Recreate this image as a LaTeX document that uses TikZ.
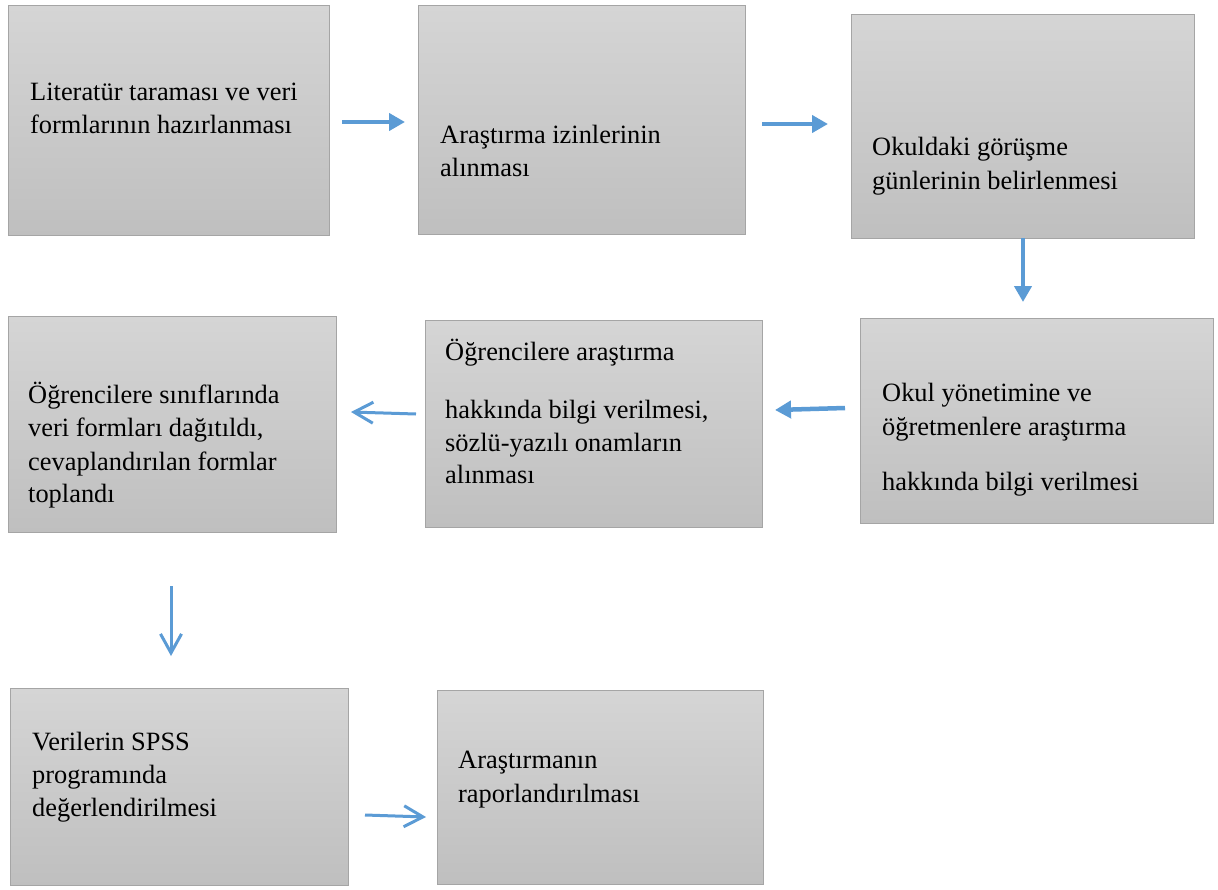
\documentclass[tikz,border=0pt]{standalone}
\usepackage{fontspec}
\setmainfont{Liberation Serif}
\usetikzlibrary{arrows.meta}
\definecolor{boxtop}{RGB}{213,213,213}
\definecolor{boxbot}{RGB}{191,191,191}
\definecolor{boxline}{RGB}{165,165,165}
\definecolor{arrowblue}{RGB}{91,155,213}
\begin{document}
\begin{tikzpicture}[x=1pt,y=-1pt,
  box/.style={draw=boxline, line width=1.2pt, top color=boxtop, bottom color=boxbot, anchor=north west, inner sep=0pt},
  txt/.style={anchor=base west, inner sep=0pt, font=\fontsize{26.4}{33}\selectfont},
  solidarrow/.style={draw=arrowblue, line width=4.5pt, -{Triangle[length=16pt,width=17pt]}},
  openarrow/.style={draw=arrowblue, line width=3pt, -{Straight Barb[length=19pt,width=21pt]}}]
\useasboundingbox[fill=white] (0,0) rectangle (1218,889);

% boxes
\node[box, minimum width=321pt, minimum height=230pt] (b1) at (8,5) {};
\node[box, minimum width=327pt, minimum height=229pt] (b2) at (418,5) {};
\node[box, minimum width=343pt, minimum height=224pt] (b3) at (851,14) {};
\node[box, minimum width=353pt, minimum height=205pt] (b4) at (860,318) {};
\node[box, minimum width=337pt, minimum height=207pt] (b5) at (425,320) {};
\node[box, minimum width=328pt, minimum height=216pt] (b6) at (8,316) {};
\node[box, minimum width=338pt, minimum height=197pt] (b7) at (10,688) {};
\node[box, minimum width=326pt, minimum height=194pt] (b8) at (437,690) {};

% texts
\node[txt] (t1a) at (30,100) {Literatür taraması ve veri};
\node[txt] (t1b) at (30,133) {formlarının hazırlanması};

\node[txt] (t2a) at (440,143) {Araştırma izinlerinin};
\node[txt] (t2b) at (440,176) {alınması};

\node[txt] (t3a) at (872,155) {Okuldaki görüşme};
\node[txt] (t3b) at (872,189) {günlerinin belirlenmesi};

\node[txt] (t4a) at (882,401) {Okul yönetimine ve};
\node[txt] (t4b) at (882,435) {öğretmenlere araştırma};
\node[txt] (t4c) at (882,490) {hakkında bilgi verilmesi};

\node[txt] (t5a) at (445,360) {Öğrencilere araştırma};
\node[txt] (t5b) at (445,418) {hakkında bilgi verilmesi,};
\node[txt] (t5c) at (445,451) {sözlü-yazılı onamların};
\node[txt] (t5d) at (445,483) {alınması};

\node[txt] (t6a) at (28,403) {Öğrencilere sınıflarında};
\node[txt] (t6b) at (28,436) {veri formları dağıtıldı,};
\node[txt] (t6c) at (28,470) {cevaplandırılan formlar};
\node[txt] (t6d) at (28,502) {toplandı};

\node[txt] (t7a) at (32,750) {Verilerin SPSS};
\node[txt] (t7b) at (32,783) {programında};
\node[txt] (t7c) at (32,816) {değerlendirilmesi};

\node[txt] (t8a) at (458,768) {Araştırmanın};
\node[txt] (t8b) at (458,802) {raporlandırılması};

% arrow end points
\coordinate (a1s) at (342,122); \coordinate (a1e) at (405,122);
\coordinate (a2s) at (762,124); \coordinate (a2e) at (828,124);
\coordinate (a3s) at (1023,238); \coordinate (a3e) at (1023,302);
\coordinate (a4s) at (845,408); \coordinate (a4e) at (775,410);
\coordinate (a5s) at (416,414); \coordinate (a5e) at (351,412);
\coordinate (a6s) at (171,586); \coordinate (a6e) at (171,656);
\coordinate (a7s) at (365,815); \coordinate (a7e) at (426,817);

\draw[solidarrow] (a1s) -- (a1e);
\draw[solidarrow] (a2s) -- (a2e);
\draw[solidarrow] (a3s) -- (a3e);
\draw[solidarrow] (a4s) -- (a4e);
\draw[openarrow] (a5s) -- (a5e);
\draw[openarrow] (a6s) -- (a6e);
\draw[openarrow] (a7s) -- (a7e);
\end{tikzpicture}
\end{document}
